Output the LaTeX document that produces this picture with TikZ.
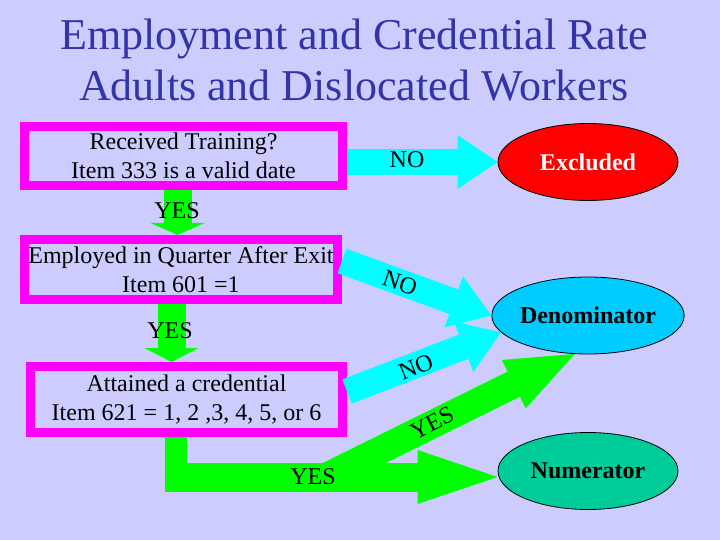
\documentclass[tikz,border=0pt]{standalone}
\usepackage{fontspec}
\setmainfont{Liberation Serif}
\usetikzlibrary{shapes.geometric,arrows.meta}
\definecolor{slidebg}{RGB}{204,204,255}
\definecolor{titleblue}{RGB}{51,51,170}
\definecolor{boxpink}{RGB}{255,0,255}
\definecolor{nocyan}{RGB}{0,255,255}
\definecolor{yesgreen}{RGB}{0,255,0}
\definecolor{excred}{RGB}{255,0,0}
\definecolor{denblue}{RGB}{0,204,255}
\definecolor{numteal}{RGB}{0,204,153}
\tikzset{
    titletext/.style={anchor=base, text=titleblue, font=\fontsize{44}{51}\selectfont},
    querybox/.style={draw=boxpink, line width=9pt, inner sep=0pt, align=center, font=\fontsize{24}{29}\selectfont},
    outcome/.style={ellipse, draw=black, line width=0.8pt, minimum width=180pt, minimum height=77pt, inner sep=0pt, font=\fontsize{24}{29}\selectfont\bfseries},
    fatno/.style={draw=nocyan, line width=26pt, -{Triangle[length=40pt,width=54pt,line width=0pt]}},
    fatyes/.style={draw=yesgreen, line width=28pt, -{Triangle[length=#1,width=54pt,line width=0pt]}},
    lbl/.style={font=\fontsize{24}{29}\selectfont}
}
\begin{document}
\begin{tikzpicture}[x=1pt,y=-1pt]
            \fill[slidebg] (0,0) rectangle (720,540);
            \useasboundingbox (0,0) rectangle (720,540);
            \node [titletext] (title1) at (354,50) {Employment and Credential Rate};
            \node [titletext] (title2) at (354,101) {Adults and Dislocated Workers};
            \node [querybox, minimum width=318pt, minimum height=59pt] (train) at (183.5,156) {Received Training?\\Item 333 is a valid date};
            \node [querybox, minimum width=313pt, minimum height=60pt] (employ) at (181,269.5) {Employed in Quarter After Exit\\Item 601 =1};
            \node [querybox, minimum width=312pt, minimum height=66pt] (cred) at (186.5,399.5) {Attained a credential\\Item 621 = 1, 2 ,3, 4, 5, or 6};
            \node [outcome, fill=excred, text=white] (excl) at (588,162) {Excluded};
            \node [outcome, fill=denblue] (denom) at (588,315.5) {Denominator};
            \node [outcome, fill=numteal] (numer) at (588,471) {Numerator};
            \coordinate (fork) at (326,477);
            \coordinate (bend) at (165,477);
            \draw [fatno] (excl.west -| train.east) -- (excl.west);
            \draw [fatno] ([yshift=8.5pt]employ.east) -- (denom.west);
            \draw [fatno] ([yshift=8pt]cred.east) -- (denom.191);
            \draw [fatyes=12pt] ([xshift=-6pt]train.south) -- ([xshift=-6pt]train.south |- employ.north);
            \draw [fatyes=14pt] ([xshift=-9.5pt]employ.south) -- ([xshift=-9.5pt]employ.south |- cred.north);
            \draw [fatyes=68pt] (fork) -- (denom.251);
            \draw [yesgreen, line width=22pt] ([xshift=-10.5pt]cred.south) -- ([xshift=-10.5pt]cred.south |- bend);
            \draw [fatyes=80pt, line width=29pt] (bend) -- (bend -| numer.west);
            \node [lbl] (yestrain) at (177,211) {YES};
            \node [lbl] (yesemploy) at (170,331) {YES};
            \node [lbl] (yescred) at (313,477) {YES};
            \node [lbl, rotate=27] (yesdiag) at (432,423) {YES};
            \node [lbl] (notrain) at (407,160) {NO};
            \node [lbl, rotate=-19] (noemploy) at (400,283) {NO};
            \node [lbl, rotate=22] (nocred) at (416,367) {NO};
\end{tikzpicture}
\end{document}
